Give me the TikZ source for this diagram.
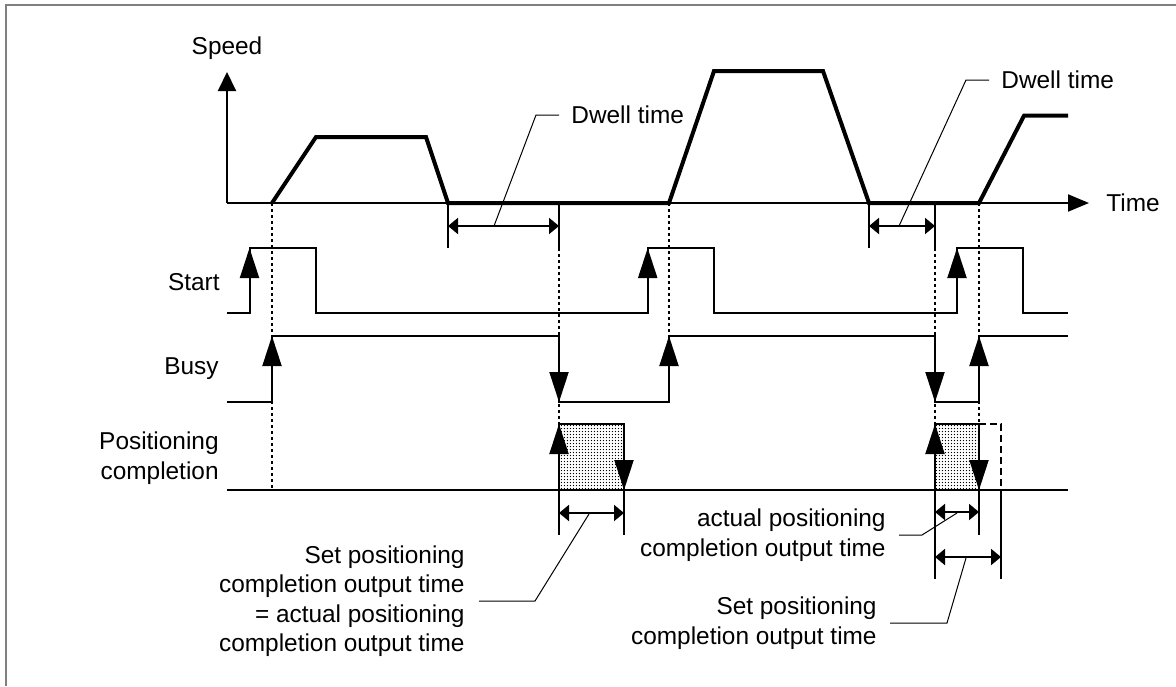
\documentclass[tikz,border=0pt]{standalone}
\usepackage{fontspec}
\setmainfont{Liberation Sans}
\usetikzlibrary{arrows.meta,patterns.meta}
\tikzdeclarepattern{
  name=finedots,
  type=uncolored,
  bounding box={(0pt,0pt) and (1.7pt,1.7pt)},
  tile size={(1.7pt,1.7pt)},
  code={\pgfpathcircle{\pgfqpoint{0.85pt}{0.85pt}}{0.4pt}\pgfusepath{fill}}
}
\begin{document}
\begin{tikzpicture}[x=0.5pt,y=-0.5pt,
  sig/.style={line width=1pt},
  prof/.style={line width=2pt},
  dotv/.style={line width=1pt, dash pattern=on 1.5pt off 1.5pt},
  dashv/.style={line width=1pt, dash pattern=on 3.5pt off 2pt},
  leader/.style={line width=0.5pt},
  edgetip/.style={line width=1pt, -{Triangle[length=15pt,width=9.5pt]}},
  dim/.style={line width=1pt, {Triangle[length=5pt,width=8pt]}-{Triangle[length=5pt,width=8pt]}},
  lbl/.style={font=\fontsize{12.2}{14.7}\selectfont, inner sep=0pt},
  ]
\useasboundingbox (0,0) rectangle (1176,686);
% frame
\draw[gray, line width=1pt] (5.7,686) -- (5.7,4.7) -- (1176,4.7);

% dotted guide lines
\draw[dotv] (272,203) -- (272,490);
\draw[dotv] (559,248) -- (559,424);
\draw[dotv] (669,203) -- (669,336);
\draw[dotv] (935,248) -- (935,424);
\draw[dotv] (979,203) -- (979,424);

% completion pulses
\fill[pattern=finedots, pattern color=black] (559,424) rectangle (624,490);
\fill[pattern=finedots, pattern color=black] (935,424) rectangle (979,490);
\draw[sig] (559,490) -- (559,424) -- (624,424) -- (624,490);
\draw[sig] (935,490) -- (935,424) -- (979,424) -- (979,490);
\draw[dashv] (979,424) -- (1001,424) -- (1001,490);

% axes
\draw[sig, -{Triangle[length=9.5pt,width=9pt]}] (227,203) -- (227,72);
\draw[sig, -{Triangle[length=10.5pt,width=8.5pt]}] (227,203) -- (1089,203);
\node[lbl] (speed) at (227,48) {Speed};
\node[lbl, anchor=west] (time) at (1106,203) {Time};

% speed profile
\draw[prof] (272,203) -- (316,137) -- (426,137) -- (448,203) -- (669,203)
  -- (714,71) -- (823,71) -- (869,203) -- (979,203) -- (1024,115.7) -- (1068,115.7);

% dwell time dimensions
\draw[sig] (448,203) -- (448,248);
\draw[sig] (559,203) -- (559,248);
\draw[dim] (448,226) -- (559,226);
\draw[sig] (869,203) -- (869,248);
\draw[sig] (935,203) -- (935,248);
\draw[dim] (869,226) -- (935,226);
\node[lbl, anchor=west, inner xsep=6pt] (dw1) at (559,115) {Dwell time};
\node[lbl, anchor=west, inner xsep=6pt] (dw2) at (989,80) {Dwell time};
\draw[leader] (494,226) -- (536,115) -- (dw1.west);
\draw[leader] (899,226) -- (966,80) -- (dw2.west);

% signal labels
\node[lbl, anchor=east] (start) at (220,282) {Start};
\node[lbl, anchor=east] (busy) at (219,369) {Busy};
\node[lbl, anchor=east, align=right] (pc) at (219,458) {Positioning\\completion};

% Start signal
\draw[sig] (227,313) -- (249.5,313) -- (249.5,248) -- (316,248) -- (316,313)
  -- (647.7,313) -- (647.7,248) -- (714,248) -- (714,313) -- (957,313)
  -- (957,248) -- (1023,248) -- (1023,313) -- (1068,313);
\draw[edgetip] (249.5,290) -- (249.5,248);
\draw[edgetip] (647.7,290) -- (647.7,248);
\draw[edgetip] (957,290) -- (957,248);

% Busy signal
\draw[sig] (227,402) -- (272,402) -- (272,336) -- (559,336) -- (559,402)
  -- (669,402) -- (669,336) -- (935,336) -- (935,402) -- (979,402)
  -- (979,336) -- (1068,336);
\draw[edgetip] (272,380) -- (272,336);
\draw[edgetip] (559,360) -- (559,402);
\draw[edgetip] (669,380) -- (669,336);
\draw[edgetip] (935,360) -- (935,402);
\draw[edgetip] (979,380) -- (979,336);

% Positioning completion baseline
\draw[sig] (227,490) -- (1068,490);
\draw[edgetip] (559,470) -- (559,424);
\draw[edgetip] (624,445) -- (624,490);
\draw[edgetip] (935,470) -- (935,424);
\draw[edgetip] (979,445) -- (979,490);

% output time dimensions
\draw[sig] (559,490) -- (559,535);
\draw[sig] (624,490) -- (624,535);
\draw[dim] (559,513) -- (624,513);
\draw[sig] (935,490) -- (935,579);
\draw[sig] (979,490) -- (979,535);
\draw[sig] (1001,490) -- (1001,579);
\draw[dim] (935,512) -- (979,512);
\draw[dim] (935,557) -- (1001,557);

\node[lbl, anchor=east, align=right, inner xsep=7pt] (set1) at (479,601)
  {Set positioning\\completion output time\\= actual positioning\\completion output time};
\draw[leader] (589,514) -- (535,601) -- (set1.east);
\node[lbl, anchor=east, align=right, inner xsep=6.5pt] (act2) at (899,535)
  {actual positioning\\completion output time};
\draw[leader] (957,513) -- (922,535) -- (act2.east);
\node[lbl, anchor=east, align=right, inner xsep=6.5pt] (set2) at (890,623)
  {Set positioning\\completion output time};
\draw[leader] (966,558) -- (947,623) -- (set2.east);
\end{tikzpicture}
\end{document}
